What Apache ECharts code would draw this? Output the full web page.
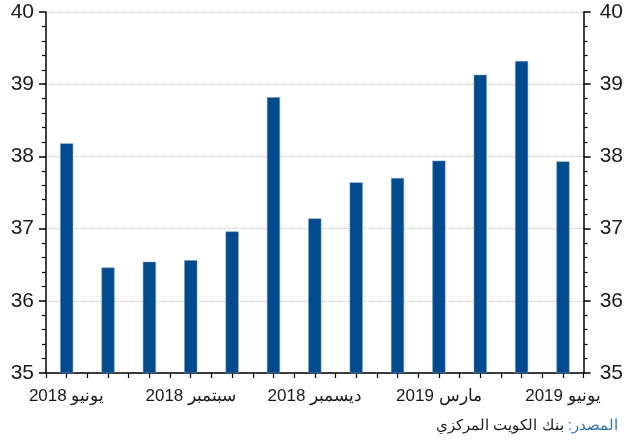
<html>
<head>
<meta charset="utf-8">
<script src="https://cdn.jsdelivr.net/npm/echarts@6/dist/echarts.min.js"></script>
<style>
body { margin: 0; background: #fff; }
#main { width: 626px; height: 443px; }
</style>
</head>
<body>
<div id="main"></div>
<script>
// months Jun 2018 .. Jun 2019 (label shown every third month)
var months = ['2018 يونيو', '', '', '2018 سبتمبر', '', '', '2018 ديسمبر', '', '', '2019 مارس', '', '', '2019 يونيو'];
var values = [38.18, 36.46, 36.54, 36.56, 36.96, 38.82, 37.14, 37.64, 37.70, 37.94, 39.13, 39.32, 37.93];
var sourceLabel = ':المصدر';
var sourceText = 'بنك الكويت المركزي ';

var fontName = 'Liberation Sans';
var chart = echarts.init(document.getElementById('main'));

function yAxisOf(pos) {
  return {
    type: 'value',
    position: pos,
    min: 35,
    max: 40,
    interval: 1,
    axisLine: { show: true, lineStyle: { color: '#000', width: 1.5 } },
    axisTick: { show: true, inside: false, length: 7, lineStyle: { color: '#000', width: 1.5 } },
    minorTick: { show: true, splitNumber: 5, length: 4, lineStyle: { color: '#000', width: 1.2 } },
    axisLabel: {
      color: '#1a1a1a', fontSize: 21, fontFamily: fontName,
      margin: pos === 'left' ? 12 : 16
    },
    splitLine: pos === 'left'
      ? { show: true, lineStyle: { color: '#c4c4c4', type: 'dotted', width: 1 } }
      : { show: false }
  };
}

chart.setOption({
  animation: false,
  backgroundColor: '#fff',
  grid: { left: 46, right: 39, top: 12, bottom: 70, containLabel: false },
  xAxis: [{
    type: 'category',
    data: months,
    boundaryGap: true,
    axisLine: { show: true, lineStyle: { color: '#000', width: 1.5 } },
    axisTick: { show: true, interval: 0, length: 5, lineStyle: { color: '#000', width: 1.2 } },
    axisLabel: {
      interval: 0, color: '#1a1a1a', fontSize: 17, fontFamily: fontName, margin: 15
    },
    splitLine: { show: false }
  }, {
    type: 'category',
    data: months,
    position: 'bottom',
    boundaryGap: true,
    axisLine: { show: false },
    axisTick: { show: true, interval: 0, alignWithLabel: true, length: 5, lineStyle: { color: '#000', width: 1.2 } },
    axisLabel: { show: false },
    splitLine: { show: false }
  }],
  yAxis: [yAxisOf('left'), yAxisOf('right')],
  series: [{
    type: 'bar',
    data: values,
    barWidth: 13,
    itemStyle: { color: '#004a8e', borderColor: '#6f95c0', borderWidth: 0.5 }
  }],
  graphic: [{
    type: 'text',
    right: 8,
    top: 418,
    style: {
      text: '{t|' + sourceText + '}{s|' + sourceLabel + '}',
      rich: {
        t: { fontSize: 15, fontFamily: fontName, fill: '#1a1a1a' },
        s: { fontSize: 15, fontFamily: fontName, fill: '#2e6fb3' }
      }
    }
  }]
});
</script>
</body>
</html>
